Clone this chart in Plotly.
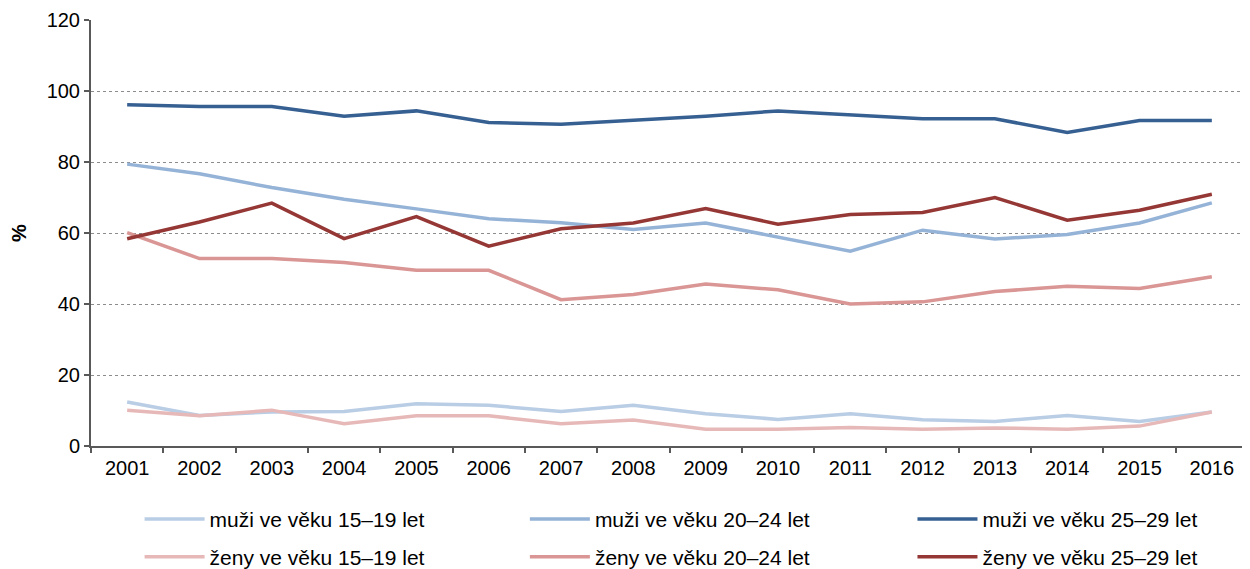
import plotly.graph_objects as go

years = [str(y) for y in range(2001, 2017)]

muzi_15_19 = [12.4, 8.6, 9.6, 9.7, 11.9, 11.5, 9.7, 11.5, 9.1, 7.5, 9.1, 7.4, 6.9, 8.6, 6.9, 9.6]
muzi_20_24 = [79.4, 76.7, 72.8, 69.5, 66.8, 64.0, 62.9, 61.0, 62.8, 58.9, 54.9, 60.8, 58.3, 59.6, 62.8, 68.5]
muzi_25_29 = [96.1, 95.6, 95.6, 92.9, 94.4, 91.1, 90.6, 91.7, 92.9, 94.4, 93.3, 92.2, 92.2, 88.3, 91.7, 91.7]
zeny_15_19 = [10.1, 8.5, 10.1, 6.3, 8.5, 8.5, 6.3, 7.3, 4.7, 4.7, 5.2, 4.7, 5.1, 4.7, 5.6, 9.6]
zeny_20_24 = [60.1, 52.8, 52.8, 51.7, 49.5, 49.5, 41.2, 42.7, 45.6, 44.0, 40.0, 40.6, 43.5, 45.0, 44.4, 47.7]
zeny_25_29 = [58.4, 63.1, 68.4, 58.4, 64.6, 56.3, 61.2, 62.8, 66.9, 62.5, 65.2, 65.8, 70.0, 63.6, 66.4, 70.9]

series = [
    ("muži ve věku 15–19 let", muzi_15_19, "#b9cde5"),
    ("muži ve věku 20–24 let", muzi_20_24, "#95b3d7"),
    ("muži ve věku 25–29 let", muzi_25_29, "#376092"),
    ("ženy ve věku 15–19 let", zeny_15_19, "#e6b9b8"),
    ("ženy ve věku 20–24 let", zeny_20_24, "#d99694"),
    ("ženy ve věku 25–29 let", zeny_25_29, "#953735"),
]

font = "Liberation Sans, Arial, sans-serif"

# legend slots (3 columns x 2 rows), in paper fractions
legend_cols = [0.042, 0.375, 0.710]
legend_rows = [-0.172, -0.261]

fig = go.Figure()
legend_layout = {}
for i, (name, vals, col) in enumerate(series):
    key = "legend" if i == 0 else f"legend{i + 1}"
    fig.add_trace(go.Scatter(x=years, y=vals, name=name, mode="lines",
                             line=dict(color=col, width=3.5), legend=key))
    legend_layout[key] = dict(
        x=legend_cols[i % 3], y=legend_rows[i // 3],
        xanchor="left", yanchor="middle", itemwidth=60,
        bgcolor="rgba(0,0,0,0)",
        font=dict(family=font, size=21, color="#000000"),
    )

# page body adds an 8px margin, so the figure is sized to fit inside the window
fig.update_layout(
    width=1242, height=561,
    margin=dict(l=83, r=2, t=12, b=123, autoexpand=False),
    plot_bgcolor="white", paper_bgcolor="white",
    font=dict(family=font, size=20, color="#000000"),
    showlegend=True,
    xaxis=dict(type="category", range=[-0.5, 15.5], tickson="boundaries",
               ticks="outside", ticklen=5, automargin=False, ticklabelstandoff=3,
               tickcolor="#595959", tickwidth=1.5,
               showline=True, linecolor="#595959", linewidth=2,
               showgrid=False, tickfont=dict(size=20)),
    yaxis=dict(range=[0, 120], dtick=20, ticks="outside", ticklen=5, automargin=False,
               tickcolor="#595959", tickwidth=1.5,
               showline=True, linecolor="#595959", linewidth=2,
               showgrid=True, gridcolor="#8c8c8c", gridwidth=1, griddash="dot",
               zeroline=False, tickfont=dict(size=20),
               title=dict(text="<b>%</b>", font=dict(size=20), standoff=24)),
    **legend_layout,
)

fig.write_html("out.html")
